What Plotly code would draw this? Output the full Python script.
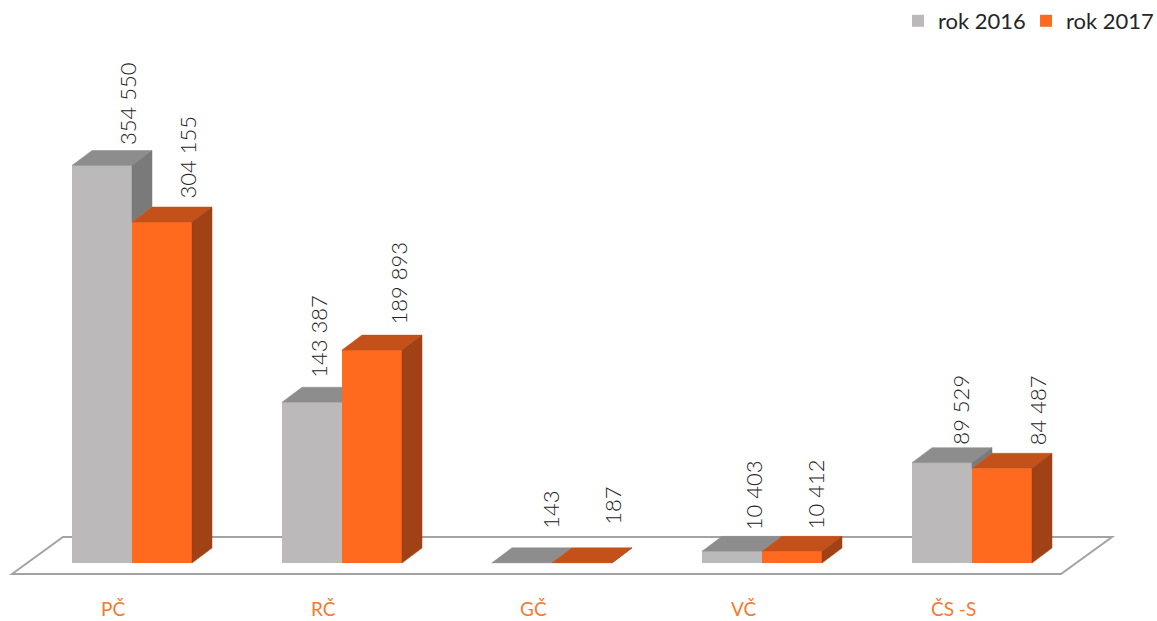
import plotly.graph_objects as go

# ---- data ----
categories = ["PČ", "RČ", "GČ", "VČ", "ČS -S"]
rok_2016 = [354550, 143387, 143, 10403, 89529]
rok_2017 = [304155, 189893, 187, 10412, 84487]
series_names = ["rok 2016", "rok 2017"]

# ---- styling / geometry parameters ----
W = 60 / 210          # bar width in category units
DX = 20 / 210         # depth offset (x) in category units
UNIT = 892.0          # value units per pixel
DY = 15 * UNIT        # depth offset (y) in value units

# per-label fine placement nudges in pixels ([2016, 2017] per category)
LABEL_NUDGE_X = [[0, 1], [-18, 2], [4, 6], [-4, -2], [-6, 10]]
LABEL_NUDGE_Y = [[-2, 1], [2, 3], [12, 16], [-1, 0], [-4, 1]]

GRAY = dict(front="#BBB9BA", top="#8D8D8D", side="#7A7A7A")
ORANGE = dict(front="#FF6A1E", top="#C4501A", side="#A04216")
LABEL_COLOR = "#222222"
CAT_COLOR = "#F47A30"
FLOOR_COLOR = "#A3A3A3"

FIG_W, FIG_H = 1157, 621
X_ORIGIN_PX, Y_BASE_PX, CAT_STEP_PX = 132, 563, 210

x_range = [(0 - X_ORIGIN_PX) / CAT_STEP_PX, (FIG_W - X_ORIGIN_PX) / CAT_STEP_PX]
y_range = [-(FIG_H - Y_BASE_PX) * UNIT, Y_BASE_PX * UNIT]

idx = list(range(len(categories)))

fig = go.Figure()

# front faces (bars)
fig.add_trace(go.Bar(x=idx, y=rok_2016, width=W, offset=-W, name=series_names[0],
                     marker=dict(color=GRAY["front"], line=dict(width=0)),
                     hoverinfo="skip"))
fig.add_trace(go.Bar(x=idx, y=rok_2017, width=W, offset=0, name=series_names[1],
                     marker=dict(color=ORANGE["front"], line=dict(width=0)),
                     hoverinfo="skip"))


def poly(xs, ys, color):
    fig.add_trace(go.Scatter(x=xs + [xs[0]], y=ys + [ys[0]], mode="lines",
                             fill="toself", fillcolor=color,
                             line=dict(width=0.5, color=color),
                             hoverinfo="skip", showlegend=False))


for i in idx:
    vg, vo = rok_2016[i], rok_2017[i]
    gx0, gx1 = i - W, i
    ox0, ox1 = i, i + W
    # gray top (clipped where hidden by the orange bar)
    if vo <= vg:
        poly([gx0, gx1, gx1 + DX, gx0 + DX], [vg, vg, vg + DY, vg + DY], GRAY["top"])
    else:
        tstar = max(0.0, 1 - (vo - vg) / DY)
        poly([gx0, gx1, gx1, gx1 + DX * tstar, gx0 + DX],
             [vg, vg, min(vo, vg + DY), vg + DY, vg + DY], GRAY["top"])
    # gray side (visible part above orange)
    if vg > vo:
        poly([gx1, gx1 + DX, gx1 + DX, gx1], [vo, vo + DY, vg + DY, vg], GRAY["side"])
    # orange top and side
    poly([ox0, ox1, ox1 + DX, ox0 + DX], [vo, vo, vo + DY, vo + DY], ORANGE["top"])
    poly([ox1, ox1 + DX, ox1 + DX, ox1], [0, DY, vo + DY, vo], ORANGE["side"])

# floor (decoration, below the bars)
n = len(categories)
fl_front_y = -11 * UNIT
fl_back_y = 26 * UNIT
fl = [(-0.5714, fl_front_y), (-0.3286, fl_back_y),
      (n - 1 + 0.6667, fl_back_y), (n - 1 + 0.4238, fl_front_y)]
path = "M " + " L ".join(f"{x},{y}" for x, y in fl) + " Z"
shapes = [dict(type="path", path=path, xref="x", yref="y", layer="below",
               line=dict(color=FLOOR_COLOR, width=2), fillcolor="white")]


def fmt(v):
    return f"{v:,}".replace(",", " ")


annotations = []
for i in idx:
    for s, (v, off) in enumerate(((rok_2016[i], -W / 2), (rok_2017[i], W / 2))):
        nx = 25 + LABEL_NUDGE_X[i][s]
        ny = 5 + LABEL_NUDGE_Y[i][s]
        annotations.append(dict(
            x=i + off + nx / CAT_STEP_PX, y=v + DY + ny * UNIT,
            xref="x", yref="y", text=fmt(v), textangle=-90,
            showarrow=False, xanchor="center", yanchor="bottom",
            font=dict(family="Lato", size=22, color=LABEL_COLOR, weight=300)))
    annotations.append(dict(
        x=i - 19 / CAT_STEP_PX, y=-45 * UNIT, xref="x", yref="y",
        text=categories[i], showarrow=False, xanchor="center", yanchor="middle",
        font=dict(family="Lato", size=19, color=CAT_COLOR)))

fig.update_layout(
    width=FIG_W, height=FIG_H,
    margin=dict(l=0, r=0, t=0, b=0, autoexpand=False),
    paper_bgcolor="white", plot_bgcolor="white",
    barmode="overlay",
    xaxis=dict(range=x_range, visible=False, fixedrange=True),
    yaxis=dict(range=y_range, visible=False, fixedrange=True),
    shapes=shapes, annotations=annotations,
    showlegend=True,
    legend=dict(orientation="h", x=898 / FIG_W, y=1.0, xanchor="left", yanchor="top",
                entrywidth=83, entrywidthmode="pixels",
                font=dict(family="Lato", size=22, color="#262626"),
                bgcolor="rgba(0,0,0,0)", itemsizing="constant"),
)

fig.write_html("out.html")
